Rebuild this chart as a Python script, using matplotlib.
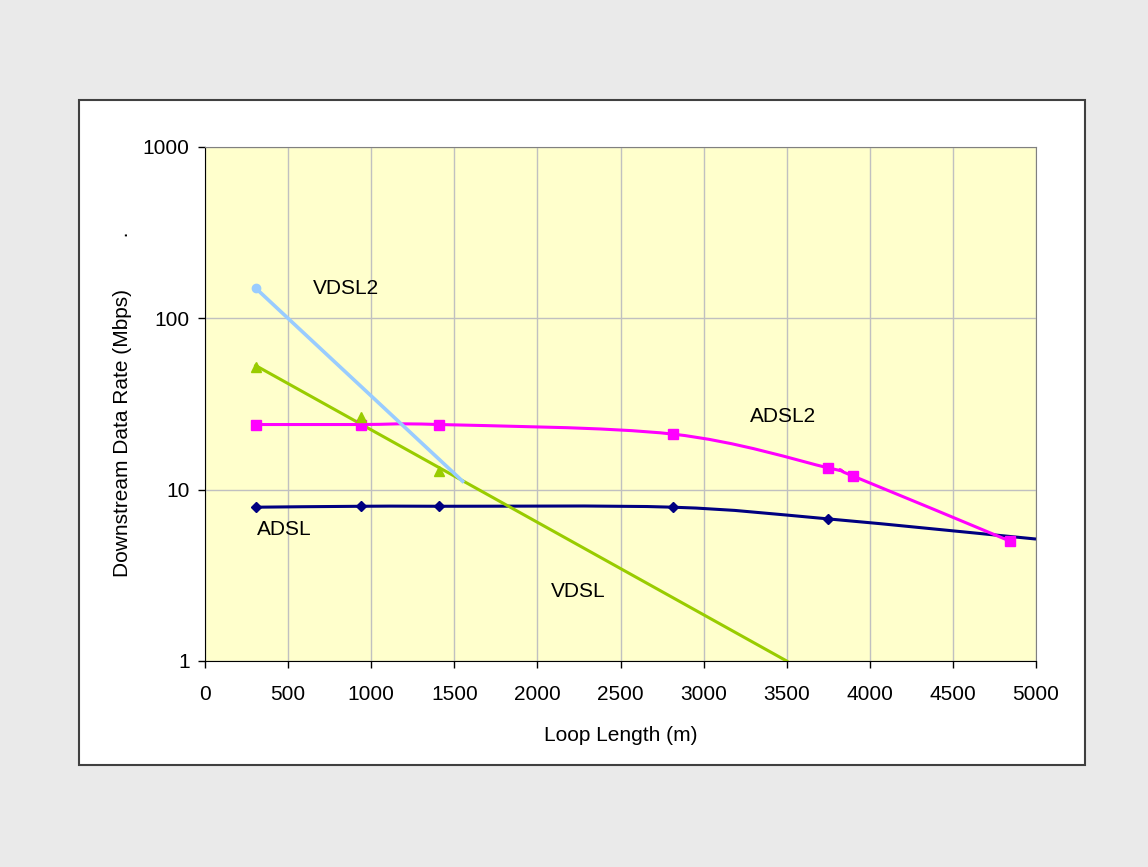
import numpy as np
import matplotlib
matplotlib.use("Agg")
import matplotlib.pyplot as plt
from matplotlib.path import Path
from matplotlib.patches import PathPatch, Rectangle


# -----------------------------
# Data
# -----------------------------
ADSL_X = [305, 940, 1410, 2815, 3750, 5000]
ADSL_Y = [7.9, 8.0, 8.0, 7.9, 6.75, 5.15]

ADSL2_X = [305, 940, 1410, 2815, 3750, 3900, 4845]
ADSL2_Y = [24.0, 24.0, 24.0, 21.1, 13.4, 12.0, 5.0]

VDSL_X = [305, 940, 1410]
VDSL_Y = [52.0, 26.6, 12.9]
VDSL_TREND_X = [305, 3500]
VDSL_TREND_Y = [53.0, 1.0]

VDSL2_X = [305, 1550]
VDSL2_Y = [150.0, 11.2]

X_TICKS = list(range(0, 5001, 500))
Y_TICKS = [1, 10, 100, 1000]

FONT = ["Liberation Sans", "DejaVu Sans"]


def smooth_path(x, y):
    """Excel-style smoothed line (Catmull-Rom as cubic Bezier) in x / log10(y)."""
    pts = np.column_stack([np.asarray(x, float), np.log10(y)])
    n = len(pts)
    verts = [pts[0]]
    codes = [Path.MOVETO]
    for i in range(n - 1):
        p0 = pts[i - 1] if i > 0 else pts[i]
        p1 = pts[i]
        p2 = pts[i + 1]
        p3 = pts[i + 2] if i + 2 < n else pts[i + 1]
        verts += [p1 + (p2 - p0) / 6, p2 - (p3 - p1) / 6, p2]
        codes += [Path.CURVE4] * 3
    verts = np.array(verts)
    verts[:, 1] = 10 ** verts[:, 1]
    return Path(verts, codes)


def main() -> None:
    plt.rcParams["font.family"] = FONT
    fig = plt.figure(figsize=(11.48, 8.67), dpi=100, facecolor="#EAEAEA")

    # chart area (white box)
    fig.patches.append(Rectangle((79 / 1148, 1 - 765 / 867), 1006 / 1148, 665 / 867,
                                 transform=fig.transFigure, facecolor="white",
                                 edgecolor="#404040", linewidth=1.5, zorder=-1))

    ax = fig.add_axes([205 / 1148, 1 - 661 / 867, 831 / 1148, 514 / 867])
    ax.set_facecolor("#FFFFCC")
    ax.set_yscale("log")
    ax.set_xlim(0, 5000)
    ax.set_ylim(1, 1000)
    ax.set_xticks(X_TICKS)
    ax.set_yticks(Y_TICKS)
    ax.set_yticklabels([str(v) for v in Y_TICKS])
    ax.yaxis.set_minor_locator(matplotlib.ticker.NullLocator())
    ax.grid(True, color="#C0C0C0", linewidth=1.0)
    ax.set_axisbelow(True)
    ax.tick_params(direction="out", length=5, width=1, labelsize=15, colors="black")
    ax.tick_params(axis="x", pad=12)
    ax.tick_params(axis="y", pad=6)
    for side in ("top", "right"):
        ax.spines[side].set_color("#808080")
    for side in ("left", "bottom"):
        ax.spines[side].set_color("black")

    # ADSL (smoothed)
    ax.add_patch(PathPatch(smooth_path(ADSL_X, ADSL_Y), fill=False,
                           edgecolor="#000080", linewidth=2.2, zorder=3))
    ax.plot(ADSL_X[:-1], ADSL_Y[:-1], linestyle="none", marker="D",
            markersize=5.5, color="#000080", zorder=4)

    # ADSL2 (smoothed)
    ax.add_patch(PathPatch(smooth_path(ADSL2_X, ADSL2_Y), fill=False,
                           edgecolor="#FF00FF", linewidth=2.2, zorder=3))
    ax.plot(ADSL2_X, ADSL2_Y, linestyle="none", marker="s",
            markersize=7, color="#FF00FF", zorder=4)

    # VDSL markers + trend line
    ax.plot(VDSL_TREND_X, VDSL_TREND_Y, color="#99CC00", linewidth=2.2, zorder=3)
    ax.plot(VDSL_X, VDSL_Y, linestyle="none", marker="^",
            markersize=7.5, color="#99CC00", zorder=4)

    # VDSL2
    ax.plot(VDSL2_X, VDSL2_Y, color="#99CCFF", linewidth=2.6, marker="o",
            markersize=6, markevery=[0], zorder=3)

    # series labels
    ax.text(850, 150, "VDSL2", fontsize=15, ha="center", va="center")
    ax.text(3480, 26.6, "ADSL2", fontsize=15, ha="center", va="center")
    ax.text(475, 5.86, "ADSL", fontsize=15, ha="center", va="center")
    ax.text(2244, 2.56, "VDSL", fontsize=15, ha="center", va="center")

    ax.set_xlabel("Loop Length (m)", fontsize=15, labelpad=16)
    ax.set_ylabel("Downstream Data Rate (Mbps)         .", fontsize=15, labelpad=8)

    fig.savefig("out.png", dpi=100, facecolor=fig.get_facecolor())
    plt.close(fig)


if __name__ == "__main__":
    main()
